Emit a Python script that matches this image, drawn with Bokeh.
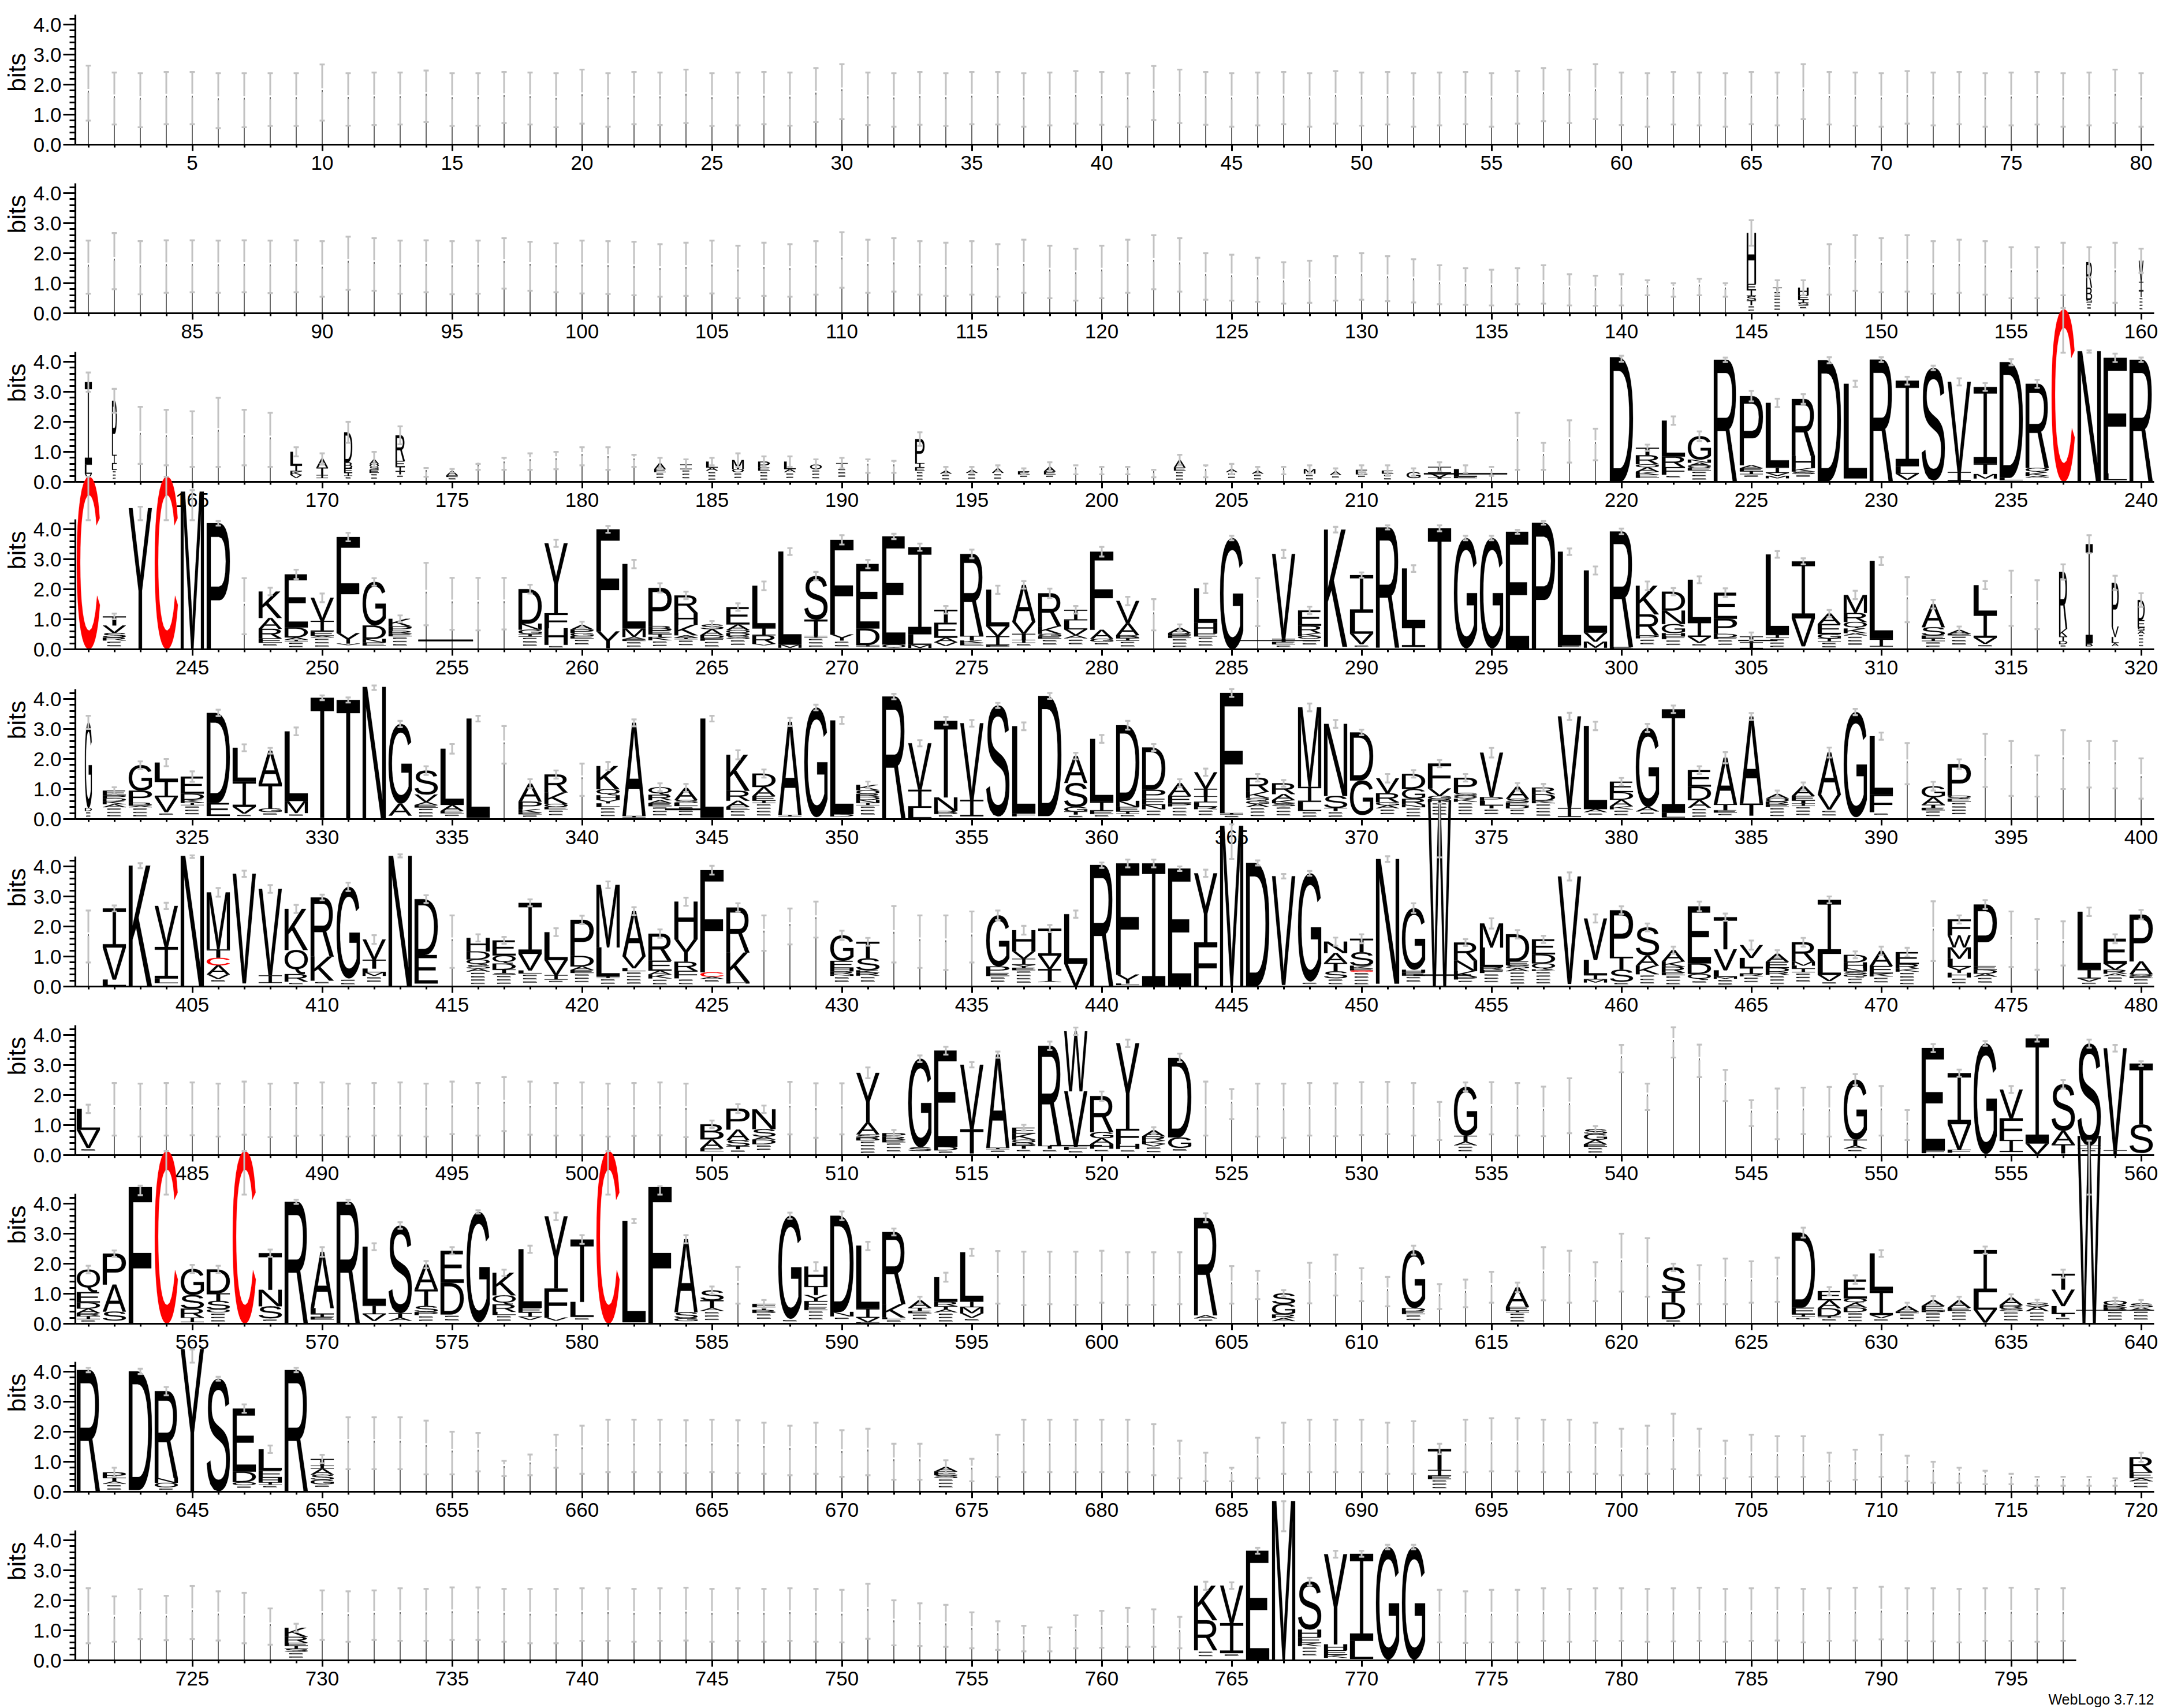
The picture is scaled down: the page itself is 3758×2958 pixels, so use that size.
import glob, os, struct, subprocess
from bokeh.embed import file_html
from bokeh.resources import INLINE
from bokeh.layouts import column
from bokeh.plotting import figure
from bokeh.core.properties import value
from bokeh.models import FixedTicker, PrintfTickFormatter

# ---------- data: error-bar top / bottom per position, and stack letters (top to bottom) ----------
row01_hi = [2.63,2.40,2.38,2.42,2.42,2.38,2.38,2.38,2.38,2.67,2.38,2.40,2.40,2.47,2.38,2.38,2.42,2.40,2.38,2.50,
2.38,2.42,2.40,2.50,2.38,2.40,2.42,2.40,2.55,2.68,2.40,2.38,2.42,2.38,2.42,2.42,2.38,2.40,2.45,2.42,
2.38,2.62,2.50,2.42,2.38,2.40,2.42,2.38,2.45,2.40,2.42,2.38,2.40,2.42,2.38,2.45,2.55,2.50,2.68,2.40,
2.38,2.42,2.40,2.38,2.42,2.40,2.68,2.42,2.40,2.38,2.45,2.40,2.42,2.38,2.40,2.42,2.38,2.40,2.50,2.38]
row01_lo = [.80,.67,.58,.68,.68,.55,.58,.62,.62,.80,.63,.65,.67,.75,.62,.63,.72,.67,.58,.70,
.60,.68,.65,.72,.62,.64,.68,.63,.75,.85,.65,.60,.66,.62,.68,.67,.60,.64,.70,.66,
.60,.82,.72,.66,.60,.64,.68,.60,.70,.63,.67,.60,.64,.68,.60,.70,.78,.72,.85,.65,
.60,.67,.64,.60,.68,.64,.85,.67,.63,.60,.70,.64,.68,.60,.64,.67,.60,.64,.72,.60]
row02_hi = [2.42,2.67,2.40,2.43,2.43,2.42,2.43,2.42,2.43,2.40,2.55,2.50,2.42,2.43,2.40,2.42,2.50,2.38,2.33,2.42,
2.40,2.38,2.30,2.35,2.42,2.25,2.35,2.30,2.40,2.70,2.45,2.50,2.40,2.35,2.40,2.30,2.45,2.25,2.15,2.25,
2.45,2.60,2.50,2.00,1.95,1.85,1.70,1.75,1.90,2.00,1.90,1.80,1.60,1.50,1.45,1.50,1.60,1.30,1.25,1.30,
1.10,1.00,1.15,1.00,3.10,1.10,1.10,2.30,2.60,2.50,2.60,2.40,2.45,2.40,2.20,2.20,2.35,2.20,2.35,2.15]
row02_lo = [.65,.80,.63,.68,.70,.68,.70,.67,.70,.55,.78,.75,.65,.70,.63,.65,.82,.75,.70,.66,
.64,.60,.55,.58,.66,.50,.58,.55,.62,.85,.68,.72,.62,.58,.62,.55,.68,.50,.42,.50,
.68,.80,.72,.45,.42,.38,.32,.35,.42,.45,.40,.36,.30,.28,.26,.30,.32,.26,.25,.26,
.60,.55,.60,.55,2.25,.60,.60,.62,.75,.70,.72,.65,.68,.62,.50,.50,.60,1.20,.35,1.35]
row02_letters = {145:("H1.7 E.2 I.2 S.15 T.15",.4),146:("T.1",.4),147:("H.25 E.15 I.1 S.1",.45),
158:("R.85 B.4 S.1",.25),160:("V.7 I.3 T.2",.2)}
row03 = [(161,3.64,3.0,"I2.75 L.3 V.2",.3),(162,3.1,2.3,"P1.8 I.3 L.2",.2),(163,2.5,.6),(164,2.4,.55),(165,2.35,.5),(166,2.8,.5),(167,2.4,.55),(168,2.3,.5),
(169,1.15,.85,"L.45 I.2 K.12 V.1",.5),(170,.95,.6,"A.3 T.25 I.1",.5),(171,2.0,1.3,"D1.0 B.2 E.15 I.1",.35),(172,1.0,.5,"A.15 O.1 S.1 E.1",.4),(173,1.85,1.25,"R.85 E.2 I.15 T.1",.4),
(174,.46,.17),(175,.43,.3,"A.15 E.05",.5),(176,.6,.4),(177,.8,.4),(178,.95,.4),(179,1.0,.42),(180,1.15,.55),(181,1.15,.4),(182,.9,.5),(183,.8,.45,"A.2 E.1",.5),(184,.75,.4,"I.15",.5),
(185,.8,.55,"L.2 A.1",.5),(186,.95,.5,"M.3 O.1",.5),(187,.85,.5,"P.2 E.1",.5),(188,.85,.5,"L.25 A.1",.5),(189,.75,.4,"O.15",.5),(190,.8,.45,"T.15",.5),(191,.75,.3),(192,.7,.3),
(193,1.65,1.2,"P.8 I.15 E.1",.4),(194,.5,.25,"A.1",.5),(195,.5,.3,"A.1",.5),(196,.55,.35,"A.15",.5),(197,.45,.25,"E.1",.5),(198,.65,.35,"A.15 E.1",.5),(199,.55,.25),
(200,.5,.25),(201,.5,.25),(202,.4,.15),(203,.9,.55,"A.25 E.1",.5),(204,.55,.15),(205,.6,.25,"A.1",.5),(206,.5,.25,"A.1",.5),(207,.5,.25),(208,.55,.3,"M.15",.5),(209,.45,.25,"A.12",.5),
(210,.55,.25,"E.15",.5),(211,.55,.2,"E.1",.5),(212,.45,.2,"G.2",.6),(213,.65,.35,"I.2 V.15 T.05"),(214,.55,.3,"L.25 E.05"),(215,.5,.2),(216,2.3,.4),(217,1.3,.4),(218,2.05,.64),(219,1.77,.72),
(220,4.2,4.0,"D4.15"),(221,1.24,1.03,"T.25 R.3 O.1 A.15 K.1 E.1"),(222,2.18,1.9,"L1.2 R.35 F.25"),(223,1.68,1.36,"G.78 N.1 A.1 O.08 E.08"),(224,4.14,3.99,"R4.05"),
(225,3.03,2.68,"P2.3 A.1 E.1 I.1"),(226,2.77,2.49,"L2.15 I.18 V.1 M.08"),(227,2.92,2.6,"R1.9 H.4 K.12 S.08"),(228,4.15,3.95,"D4.03"),(229,3.37,3.16,"L3.15"),(230,4.15,3.99,"R4.05"),
(231,3.5,3.24,"I2.85 L.25 V.2"),(232,3.87,3.72,"S3.75"),(233,3.45,3.21,"V3.0 I.3"),(234,3.29,3.03,"I2.55 T.35 M.15"),(235,4.09,3.88,"D3.85 L.08"),(236,3.4,3.13,"R2.8 Q.15 K.12 A.05"),
(237,5.79,4.3,"C5.75"),(238,4.38,4.3,"N4.35"),(239,4.27,3.99,"F3.85 L.22"),(240,4.14,3.99,"R4.05")]
row04 = [(241,5.75,4.3,"C5.75"),(242,1.19,1.0,"T.3 V.25 S.15 R.1"),(243,4.75,4.3,"Y4.7"),(244,5.75,4.3,"C5.75"),(245,5.3,4.3,"M5.25"),(246,4.27,4.12,"P4.2"),(247,2.37,.5),
(248,2.05,1.8,"K.88 A.36 R.32 E.15"),(249,2.65,2.34,"E1.77 D.33 A.08 I.05"),(250,1.86,1.57,"V.77 I.35 E.15 A.05"),(251,3.88,3.6,"F3.2 Y.35 V.05"),(252,2.37,2.12,"G1.45 D.45 N.12 E.1"),
(253,1.13,.9,"K.25 P.15 R.1 E.08"),(254,2.88,.8),(255,2.38,.65),(256,2.38,.63),(257,2.38,.66),(258,2.15,1.86,"D1.15 N.2 G.15 I.08"),(259,3.65,3.41,"Y2.33 F.5 H.55"),(260,.92,.7,"A.15 P.12 G.1 E.08"),
(261,4.11,3.88,"F3.4 Y.55"),(262,2.98,2.7,"L2.15 M.28 A.08 E.05"),(263,2.2,1.89,"P1.27 B.15 E.12 I.1 K.1"),(264,1.92,1.67,"R.58 H.4 K.35 A.08 I.05"),(265,.94,.72,"S.16 A.2 D.1 F.08"),
(266,1.53,1.28,"E.58 A.18 O.1 D.1 S.1"),(267,2.26,1.97,"L1.4 I.25 R.28 V.05"),(268,3.37,3.14,"L3.1 M.1"),(269,2.58,2.3,"S1.45 T.55 I.05"),(270,3.8,3.49,"F3.15 Y.2"),(271,2.98,2.7,"E2.15 D.55 I.05"),
(272,3.85,3.67,"E3.6 O.1"),(273,3.52,3.28,"I2.9 L.35 M.1"),(274,1.44,1.19,"T.43 E.5 A.15 V.12"),(275,3.32,3.03,"R2.73 T.15 K.08 E.08"),(276,2.12,1.85,"L1.22 V.33 I.3 E.05"),(277,2.27,2.02,"A1.23 V.4 T.2 I.1"),
(278,2.02,1.71,"R1.1 K.25 G.08 E.08"),(279,1.44,1.19,"I.35 L.3 V.2 A.1"),(280,3.41,3.09,"F2.6 A.3 G.1"),(281,1.75,1.47,"V.74 A.4 B.1 I.08"),(282,1.67,.63),(283,.83,.59,"A.17 B.08 E.08"),(284,2.19,1.87,"L1.15 H.35 E.1"),
(285,3.78,3.63,"G3.7"),(286,2.37,.77),(287,3.31,3.04,"V2.83 T.1 E.08"),(288,1.42,1.17,"E.51 R.25 K.1 O.08"),(289,4.08,3.89,"K3.9"),(290,2.56,2.38,"I1.25 L.7 V.35"),(291,4.13,3.99,"R4.0"),(292,2.8,2.58,"L1.93 I.68"),
(293,4.13,3.93,"T4.0"),(294,3.78,3.63,"G3.67"),(295,3.78,3.63,"G3.67"),(296,3.98,3.85,"E3.9"),(297,4.27,4.15,"P4.2"),(298,3.36,3.14,"L3.12 E.05"),(299,2.76,2.49,"L2.07 V.3 M.2"),(300,4.02,3.83,"R3.85 E.05"),
(301,2.26,1.97,"K.95 R.7 P.1"),(302,2.04,1.8,"D.63 N.45 G.3 H.1 F.1"),(303,2.43,2.2,"L1.4 I.5 V.2"),(304,2.03,1.74,"E.87 P.5 D.12 F.05"),(305,.56,.3,"T.2 I.2"),(306,3.27,3.05,"L2.68 I.1"),
(307,3.03,2.83,"I1.9 V.93"),(308,1.31,1.07,"A.35 E.33 G.15 I.1"),(309,1.95,1.67,"M.6 R.3 Q.22 K.15 A.08"),(310,3.07,2.81,"L2.6 I.25"),(311,2.4,.9),(312,1.65,1.36,"A.77 S.28 E.1 I.08"),(313,.76,.53,"A.13 E.05"),
(314,2.27,2.0,"L.95 I.8 V.2"),(315,2.62,.78),(316,2.3,.67),(317,2.83,2.32,"R1.9 K.25 T.15 D.1",.35),(318,3.8,3.2,"I3.3 B.1",.3),(319,2.45,1.97,"P1.45 V.35 L.2 A.1",.3),(320,1.87,1.41,"D.67 E.25 S.1 A.1",.3)]
row05 = [(321,3.44,3.0,"G2.85 D.1",.3),(322,1.06,.83,"E.15 P.1 D.1 K.1 A.1"),(323,1.92,1.67,"G.85 P.4 B.1 A.05"),(324,2.0,1.76,"L.6 I.55 V.5"),(325,1.59,1.24,"E.57 D.2 K.1 I.08"),(326,3.64,3.43,"D3.0 E.43"),
(327,2.49,2.26,"L1.12 I.85 V.22"),(328,2.37,2.18,"A1.09 T.83 G.12"),(329,3.05,2.79,"L2.32 M.4"),(330,4.12,3.96,"T4.0"),(331,4.05,3.88,"T3.95"),(332,4.45,4.3,"N4.4"),(333,3.27,3.06,"G2.65 A.4"),(334,1.76,1.47,"S.8 V.25 A.1 E.08"),
(335,2.5,2.18,"L1.87 A.2 E.08"),(336,3.44,3.25,"L3.3"),(337,3.1,1.85),(338,1.33,1.03,"A.6 P.25 K.12 E.05"),(339,1.62,1.35,"R.6 K.38 O.1 E.08"),(340,1.85,.77),(341,1.9,1.63,"K.77 Q.2 H.15 Y.12 L.12"),(342,3.32,3.09,"A3.1 I.05"),
(343,1.19,.93,"Q.25 R.18 A.1 E.1"),(344,1.17,.9,"A.4 S.1 L.1"),(345,3.44,3.25,"L3.3"),(346,2.29,1.99,"K1.2 R.33 A.2 E.1"),(347,1.65,1.38,"D.45 A.3 E.15 I.08"),(348,3.37,3.1,"A3.1 I.05"),(349,3.81,3.62,"G3.65"),
(350,3.4,3.17,"L3.12 D.08"),(351,1.25,1.03,"K.18 O.12 R.1 D.1 N.1 I.08"),(352,4.17,3.99,"R4.05"),(353,2.63,2.42,"V1.55 I.6 L.35"),(354,3.4,3.14,"T2.55 N.45 B.1"),(355,3.3,3.08,"V2.55 I.55"),(356,3.87,3.7,"S3.7"),
(357,3.22,2.96,"L2.9 F.1"),(358,4.2,4.0,"D4.0"),(359,2.21,1.99,"A.9 S.8 G.15 T.1"),(360,2.8,2.54,"L2.1 I.3 E.1"),(361,3.27,2.98,"D2.52 N.2 E.15 I.08"),(362,2.5,2.27,"D1.41 P.3 E.2 N.15"),(363,1.33,1.06,"A.42 E.25 P.1"),
(364,1.68,1.44,"V.55 T.25 I.2 L.15 R.08"),(365,4.33,4.07,"F4.0 I.05"),(366,1.5,1.25,"R.47 K.2 Q.1 G.1 A.1"),(367,1.3,1.08,"R.36 A.2 K.1 S.1"),(368,3.85,3.59,"M2.65 I.5 L.3"),(369,3.3,3.04,"N2.4 S.4 T.1"),(370,2.98,2.79,"D1.6 G1.15"),
(371,1.5,1.22,"V.5 R.3 G.1 A.1"),(372,1.63,1.38,"D.5 G.33 R.2 N.08"),(373,1.97,1.73,"F.83 V.25 G.1 R.1"),(374,1.5,1.25,"P.5 S.1 Q.1 K.1"),(375,2.37,2.05,"V1.48 P.12 L.15 T.1"),(376,1.2,.95,"A.4 S.12 E.1 D.1"),
(377,1.17,.93,"R.22 D.22 K.08"),(378,3.54,3.3,"V3.05 I.3"),(379,3.24,2.96,"L2.77 A.1"),(380,1.37,1.12,"E.35 D.25 A.22 K.1"),(381,3.17,2.9,"G2.63 A.15"),(382,3.78,3.53,"I3.45 L.15"),(383,1.76,1.5,"E.55 D.45 A.25"),
(384,2.23,1.86,"A1.55 T.2 E.08"),(385,3.53,3.3,"A2.9 T.4"),(386,.95,.72,"A.15 O.1 R.1 E.08"),(387,1.22,.96,"A.32 E.15 T.1 I.08"),(388,2.38,2.05,"A1.4 V.5"),(389,3.67,3.46,"G3.5"),(390,2.88,2.64,"L1.93 F.6"),(391,2.53,1.16),
(392,1.24,.95,"G.37 A.25 T.1 E.08"),(393,1.99,1.67,"P1.05 Q.1 E.1"),(394,2.84,1.07),(395,2.6,.77),(396,2.12,.75),(397,2.96,1.0),(398,2.6,1.05),(399,2.6,1.02),(400,2.02,.68)]
row06 = [(401,2.53,.8),(402,2.7,2.5,"I1.3 V1.07 L.2"),(403,4.11,3.94,"K4.0"),(404,2.79,2.58,"V1.37 I1.05 L.15"),(405,4.37,4.28,"N4.35"),(406,3.28,2.99,"M1.9 T.28 C.25 A.3 V.15"),(407,3.86,3.65,"V3.65"),(408,3.38,3.12,"V2.88 I.25"),
(409,2.72,2.45,"K1.37 Q.8 R.25"),(410,3.06,2.87,"R1.97 K.8"),(411,3.46,3.18,"G3.05"),(412,1.71,1.42,"V.67 T.3 L.12 M.12"),(413,4.4,4.3,"N4.35"),(414,3.04,2.78,"D1.86 E.95"),(415,2.37,.62),(416,1.74,1.5,"H.45 D.27 Q.18 S.12 A.1"),
(417,1.65,1.42,"E.5 Q.27 D.2 T.12 S.05"),(418,2.9,2.67,"I1.7 V.55 L.1"),(419,1.94,1.68,"L.93 V.5 I.15"),(420,2.36,2.08,"P1.2 D.35 A.12 E.1"),(421,3.5,3.27,"M2.08 L.97 I.05"),(422,2.64,2.38,"A1.5 V.4 L.1"),(423,1.9,1.62,"R.9 E.33 A.13 K.13"),
(424,2.96,2.69,"H1.25 Y.75 R.3 F.25"),(425,4.02,3.73,"F3.4 C.15 A.07"),(426,2.77,2.49,"R1.5 K.98 H.05"),(427,2.37,1.19),(428,2.6,1.4),(429,2.83,1.63),(430,1.86,1.55,"G.85 E.25 H.1 R.1 N.05"),(431,1.62,1.36,"T.55 S.4 K.08 R.1"),
(432,2.68,.8),(433,2.37,.62),(434,2.37,.55),(435,2.5,.8),(436,2.53,2.21,"G1.7 P.22 E.1"),(437,2.02,1.73,"H.7 V.25 I.2 Y.1 E.08"),(438,2.05,1.81,"I.9 V.45 T.4 A.03"),(439,2.53,2.29,"L1.65 V.75"),
(440,4.13,3.95,"R4.05"),(441,4.23,3.97,"F3.7 Y.3 L.05"),(442,4.23,3.97,"I4.1"),(443,4.0,3.85,"E3.93"),(444,3.89,3.65,"Y2.3 F1.45"),(445,5.4,4.25,"M5.35"),(446,4.2,4.03,"D4.1"),(447,3.75,3.6,"V3.62"),(448,3.85,3.69,"G3.6"),
(449,1.63,1.36,"N.38 A.33 T.28 S.23"),(450,1.74,1.44,"T.45 S.45 K.1 E.05 C.05"),(451,4.34,4.15,"N4.15"),(452,2.77,2.45,"G2.05 H.1 E.1"),(453,6.1,4.3,"W6.2"),(454,1.58,1.35,"R.6 N.35 K.2 P.08"),(455,2.27,1.93,"M.8 L.65 R.1 F.1"),
(456,1.88,1.6,"D.9 E.13 S.1 A.1"),(457,1.69,1.45,"E.5 D.3 Q.2 K.05"),(458,3.8,3.53,"V3.58"),(459,2.4,2.13,"V1.38 L.5 I.15 M.1"),(460,2.67,2.41,"P1.55 T.43 S.4"),(461,2.1,1.84,"S.93 A.35 K.28"),(462,1.33,1.09,"A.38 K.17 R.2 E.08"),
(463,2.83,2.51,"E1.9 D.35 Q.2"),(464,2.43,2.19,"T1.07 V.7 L.22 M.06"),(465,1.53,1.23,"V.43 L.33 I.2 R.08"),(466,1.21,.97,"A.27 E.2 D.13 R.1"),(467,1.62,1.33,"R.65 M.13 L.1 I.12"),(468,3.0,2.77,"I1.8 L.7 V.2"),
(469,1.17,.94,"D.25 H.2 N.1 S.1 Q.1"),(470,1.33,1.04,"A.5 E.25 K.1"),(471,1.29,1.0,"E.4 R.15 K.1"),(472,2.84,.85),(473,2.37,2.1,"F.53 W.4 M.38 L.27 Y.2 H.15"),(474,2.88,2.58,"P2.05 E.12 D.13 A.1"),(475,2.5,.65),(476,2.25,.56),(477,2.17,.7),
(478,2.63,2.35,"L1.92 I.3 V.1"),(479,1.74,1.44,"E.83 V.2 R.13 A.08"),(480,2.55,2.24,"P1.56 A.42 Q.08 E.05")]
row07 = [(481,1.68,1.4,"L.7 V.6"),(482,2.4,.65),(483,2.38,.62),(484,2.4,.65),(485,2.42,.66),(486,2.38,.62),(487,2.45,.68),(488,2.38,.6),(489,2.4,.64),(490,2.42,.66),(491,2.38,.62),(492,2.4,.65),(493,2.42,.65),(494,2.38,.62),(495,2.45,.7),
(496,2.4,.65),(497,2.6,.8),(498,2.45,.68),(499,2.4,.65),(500,2.42,.66),(501,2.38,.62),(502,2.4,.64),(503,2.42,.66),(504,2.38,.6),(505,1.15,.9,"B.5 A.3 E.1"),(506,1.7,1.4,"P.7 A.35 S.2 T.1"),(507,1.65,1.4,"N.66 S.25 A.1 D.15"),
(508,2.44,.69),(509,2.39,.58),(510,2.39,.69),(511,2.92,2.56,"Y1.65 A.4 S.1 B.1"),(512,.84,.62,"P.12 R.1 E.08"),(513,3.32,3.1,"G2.95 S.12"),(514,3.61,3.35,"E3.2 D.12"),(515,3.1,2.92,"V2.15 T.8"),(516,3.45,3.24,"A3.1 I.05"),
(517,1.01,.82,"E.2 K.2 O.1 B.1 T.1"),(518,3.78,3.5,"R3.33 T.1"),(519,4.25,4.0,"W2.0 V1.85 F.1"),(520,2.12,1.81,"R1.2 G.2 A.2 H.15"),(521,3.85,3.6,"Y2.85 F.5 H.17"),(522,.93,.72,"A.2 R.15 K.1 V.08"),(523,3.38,3.1,"D2.65 G.35"),
(524,2.45,.65),(525,2.2,1.2),(526,2.38,.62),(527,2.38,.58),(528,2.4,.65),(529,2.39,.63),(530,2.43,.67),(531,2.44,.7),(532,2.4,.65),(533,1.77,.5),(534,2.42,2.13,"G1.63 T.2 A.12"),(535,2.43,.69),(536,2.4,.65),(537,2.28,.63),(538,2.56,.73),
(539,.97,.75,"S.15 G.2 A.15 E.08"),(540,3.67,2.76),(541,2.38,1.5),(542,4.26,3.25),(543,3.68,2.6),(544,2.84,1.8),(545,1.83,.97),(546,2.22,.53),(547,2.25,.7),(548,2.27,.62),(549,2.7,2.33,"G2.0 T.2 A.1"),(550,2.3,.65),(551,1.5,.5),
(552,3.7,3.43,"E3.4 F.1"),(553,2.85,2.61,"I1.7 V.85 F.1"),(554,3.8,3.64,"G3.68"),(555,2.3,2.07,"V.96 F.72 I.4"),(556,3.99,3.78,"I3.5 V.35"),(557,2.5,2.22,"S1.55 A.45 T.3"),(558,3.85,3.58,"S3.4 I.1"),(559,3.67,3.45,"V3.4 I.15"),(560,3.13,2.97,"T2.03 S.95")]
row08 = [(561,1.93,1.68,"Q.75 E.35 D.2 A.15 R.1 I.1"),(562,2.44,2.23,"P1.03 A.9 S.3"),(563,4.6,4.28,"F4.55"),(564,5.75,4.3,"C5.75"),(565,1.96,1.69,"G.87 S.45 R.3 I.15"),(566,1.93,1.69,"D.8 T.25 S.28 O.1"),(567,5.75,4.3,"C5.75"),
(568,2.47,2.23,"T1.22 N.55 S.4"),(569,4.13,3.99,"R4.03"),(570,2.55,2.23,"A1.87 L.2 I.1 E.08"),(571,4.13,3.99,"R4.03"),(572,2.68,2.45,"L1.95 I.3 V.22"),(573,3.38,3.16,"S2.92 T.15 A.1"),(574,2.09,1.85,"A.83 T.55 S.2 P.1"),(575,2.55,2.31,"E1.07 D1.05"),
(576,3.78,3.67,"G3.68"),(577,1.8,1.59,"K.75 Q.3 R.25 L.1"),(578,2.6,2.36,"L1.95 E.15 I.15 V.1"),(579,3.7,3.45,"Y2.4 F.97 V.1"),(580,2.95,2.66,"T2.08 L.5"),(581,5.75,4.3,"C5.75"),(582,3.49,3.35,"L3.37"),(583,4.58,4.3,"F4.55"),
(584,2.95,2.68,"A2.43 S.2 G.1"),(585,1.24,.98,"S.33 T.25 A.1"),(586,1.89,.67),(587,.79,.53,"F.1 T.1 B.1"),(588,3.7,3.49,"G3.43"),(589,2.05,1.76,"H.65 T.3 Y.2 F.2 E.1"),(590,3.74,3.45,"D3.2 N.15"),(591,2.73,2.45,"L2.1 I.3 V.15 F.05"),
(592,3.17,2.94,"R2.4 K.45 L.05"),(593,.9,.66,"A.25 T.1 E.08"),(594,1.7,1.4,"L.82 R.15 T.1 A.1"),(595,2.5,2.26,"L1.63 I.2 M.2 V.15"),(596,2.42,.67),(597,2.4,.62),(598,2.4,.65),(599,2.4,.63),
(600,2.43,.7),(601,2.38,.63),(602,2.38,.63),(603,2.38,.65),(604,3.68,3.38,"R3.25 A.1"),(605,1.92,.67),(606,1.76,.82),(607,1.12,.9,"S.35 G.35 R.12 A.1"),(608,2.03,.68),(609,2.3,.94),(610,1.85,.75),(611,1.56,.58),(612,2.6,2.3,"G1.93 D.1 E.1"),
(613,1.32,.49),(614,1.47,.55),(615,1.73,.7),(616,1.37,1.05,"A.65 E.13 I.05"),(617,2.55,.78),(618,2.43,.7),(619,2.05,.75),(620,3.0,1.07),(621,2.85,.9),(622,2.0,1.75,"S.8 T.37 D.55"),(623,1.95,.65),(624,2.17,.65),(625,2.08,.7),(626,2.2,.73),
(627,3.2,2.87,"D2.5 E.22 I.08"),(628,1.22,.95,"E.3 A.27 D.27 I.05"),(629,1.61,1.33,"E.63 Q.15 A.15 D.15"),(630,2.45,2.23,"L1.25 I.8 V.1"),(631,.7,.47,"A.18 E.05"),(632,.92,.66,"A.2 E.15 B.05"),(633,.9,.66,"A.25 E.1"),(634,2.57,2.33,"I1.4 L.58 V.43"),
(635,.98,.76,"A.25 R.1 S.1"),(636,.8,.6,"S.13 A.15"),(637,1.8,1.53,"T.53 V.55 L.25 T.1"),(638,6.1,4.3,"W6.25"),(639,.87,.66,"O.13 R.1 B.1"),(640,.79,.56,"S.13 A.1")]
row09 = [(641,4.13,3.98,"R4.03"),(642,.8,.49,"P.18 T.12 A.08"),(643,4.1,3.92,"D3.95"),(644,3.49,3.21,"R2.9 N.15 O.15"),(645,4.74,4.3,"Y4.75"),(646,3.83,3.7,"S3.75"),(647,2.91,2.63,"E2.1 D.35 O.1"),(648,1.54,1.29,"L.7 E.25 H.15 I.08"),
(649,4.13,3.98,"R4.03"),(650,1.23,.95,"T.22 I.1 A.2 S.17 G.15"),(651,2.48,.75),(652,2.48,.75),(653,2.48,.75),(654,2.37,.58),(655,2.0,.58),(656,1.96,.68),(657,1.03,.52),(658,1.24,.55),(659,1.9,.8),(660,2.2,.6),(661,2.4,.65),(662,2.4,.65),(663,2.4,.65),
(664,2.38,.62),(665,2.4,.65),(666,2.38,.62),(667,2.3,.6),(668,2.2,.55),(669,2.3,.6),(670,2.05,.5),(671,2.1,.55),(672,1.6,.4),(673,1.6,.4),(674,1.05,.6,"A.15 E.12 S.1"),(675,1.1,.35),(676,1.9,.5),(677,2.4,.65),(678,2.4,.65),(679,2.4,.65),(680,2.4,.65),
(681,2.4,.65),(682,2.25,.55),(683,1.7,.45),(684,1.3,.35),(685,.8,.35),(686,1.8,.45),(687,2.3,.6),(688,2.4,.65),(689,2.4,.65),(690,2.4,.65),(691,2.3,.6),(692,2.35,.6),(693,1.6,1.25,"T.7 I.2 E.1"),(694,2.4,.65),(695,2.45,.68),(696,2.45,.68),(697,2.4,.65),
(698,2.4,.65),(699,2.3,.6),(700,2.1,.55),(701,2.2,.6),(702,2.6,.75),(703,2.1,.55),(704,1.7,.45),(705,1.9,.5),(706,1.85,.5),(707,1.85,.5),(708,1.3,.35),(709,1.4,.4),(710,1.9,.5),(711,1.2,.35),(712,1.0,.3),(713,.8,.3),(714,.7,.25),(715,.6,.25),(716,.5,.2),
(717,.5,.2),(718,.5,.2),(719,.45,.2),(720,1.3,1.0,"R.5 E.2 A.1")]
row10 = [(721,2.4,.57),(722,2.13,.62),(723,2.37,.71),(724,2.15,.67),(725,2.48,.71),(726,2.3,.66),(727,2.25,.57),(728,1.73,.52),(729,1.22,.95,"K.3 R.2 E.1 I.1 S.1"),(730,2.33,.68),(731,2.3,.62),(732,2.33,.68),(733,2.4,.65),(734,2.38,.65),(735,2.43,.68),
(736,2.43,.68),(737,2.38,.62),(738,2.38,.57),(739,2.38,.57),(740,2.4,.65),(741,2.4,.65),(742,2.38,.62),(743,2.4,.65),(744,2.42,.66),(745,2.38,.62),(746,2.4,.65),(747,2.38,.62),(748,2.4,.65),(749,2.38,.62),(750,2.35,.6),(751,2.55,.72),(752,2.0,.5),
(753,1.9,.48),(754,1.85,.45),(755,1.6,.4),(756,1.3,.35),(757,1.15,.3),(758,1.1,.3),(759,1.5,.4),(760,1.65,.42),(761,1.75,.45),(762,1.7,.45),(763,1.45,.4),(764,2.62,2.35,"K1.15 R1.0"),(765,2.6,2.38,"V1.25 I1.0"),(766,3.75,3.55,"E3.65"),
(767,5.3,4.3,"M5.3"),(768,2.75,2.5,"S1.6 H.25 E.2 K.1"),(769,3.65,3.42,"Y3.0 H.2 E.15 K.1"),(770,3.65,3.45,"I2.9 L.6"),(771,3.85,3.7,"G3.75"),(772,3.85,3.7,"G3.75"),(773,2.35,.6),(774,2.3,.58),(775,2.35,.6),(776,2.35,.6),(777,2.4,.65),(778,2.38,.62),
(779,2.4,.65),(780,2.4,.65),(781,2.38,.62),(782,2.4,.63),(783,2.42,.65),(784,2.38,.62),(785,2.4,.65),(786,2.42,.66),(787,2.38,.6),(788,2.4,.65),(789,2.42,.66),(790,2.45,.7),(791,2.4,.65),(792,2.4,.63),(793,2.38,.6),(794,2.4,.65),(795,2.42,.65),(796,2.38,.62),(797,2.4,.65)]
long_dashes = {3:[(212.4,215.6,.25,.04)],4:[(253.7,255.8,.27,.05),(285,288.4,.28,.02),(304.5,306,.28,.03)],5:[(343.2,345,.3,.05)],6:[(452,454.2,.36,.04)],7:[(518,520,.3,.03)],8:[(637.5,640.5,.44,.015),(553,555,.44,.03)]}
row_zero_y = [249,541,833,1123,1417,1707,1999,2291,2582,2874]
credit = "WebLogo 3.7.12"
y_ticks = [0,1,2,3,4]
y_minor = [0.2*i for i in range(22)]
tick_step = 5
RED, BLACK, GRAY = "#ff0000", "#000000", "#c2c2c2"
LEFT = 130

# ---------- letter outlines from the installed font (stretched, as in sequence logos) ----------
def find_font():
    for root in ("/usr/share/fonts", "/usr/local/share/fonts", os.path.expanduser("~/.fonts"), os.path.expanduser("~/.local/share/fonts")):
        hits = glob.glob(root+"/**/LiberationSans-Regular.ttf", recursive=True)
        if hits:
            return hits[0]
    return subprocess.run(["fc-match", "-f", "%{file}", "Liberation Sans"], capture_output=True, text=True, timeout=20).stdout

def load_glyphs(chars):
    data = open(find_font(), "rb").read()
    n = struct.unpack(">H", data[4:6])[0]
    tb = {}
    for i in range(n):
        tag, _, off, ln = struct.unpack(">4sIII", data[12+16*i:28+16*i])
        tb[tag.decode()] = off
    fmt = struct.unpack(">h", data[tb["head"]+50:tb["head"]+52])[0]
    cm = tb["cmap"]
    cnt = struct.unpack(">H", data[cm+2:cm+4])[0]
    sub = None
    for i in range(cnt):
        pid, eid, o = struct.unpack(">HHI", data[cm+4+8*i:cm+12+8*i])
        if struct.unpack(">H", data[cm+o:cm+o+2])[0] == 4:
            sub = cm+o
    seg = struct.unpack(">H", data[sub+6:sub+8])[0]//2
    ends = struct.unpack(f">{seg}H", data[sub+14:sub+14+2*seg])
    starts = struct.unpack(f">{seg}H", data[sub+16+2*seg:sub+16+4*seg])
    deltas = struct.unpack(f">{seg}h", data[sub+16+4*seg:sub+16+6*seg])
    ro_pos = sub+16+6*seg
    ros = struct.unpack(f">{seg}H", data[ro_pos:ro_pos+2*seg])
    def gid(c):
        for i in range(seg):
            if starts[i] <= c <= ends[i]:
                if ros[i] == 0:
                    return (c+deltas[i]) & 0xFFFF
                p = ro_pos+2*i+ros[i]+2*(c-starts[i])
                return (struct.unpack(">H", data[p:p+2])[0]+deltas[i]) & 0xFFFF
        return 0
    def loca(g):
        if fmt:
            return struct.unpack(">I", data[tb["loca"]+4*g:tb["loca"]+4*g+4])[0]
        return 2*struct.unpack(">H", data[tb["loca"]+2*g:tb["loca"]+2*g+2])[0]
    out = {}
    for ch in chars:
        p = tb["glyf"]+loca(gid(ord(ch)))
        nc = struct.unpack(">h", data[p:p+2])[0]
        q = p+10
        endp = struct.unpack(f">{nc}H", data[q:q+2*nc]); q += 2*nc
        il = struct.unpack(">H", data[q:q+2])[0]; q += 2+il
        np_ = endp[-1]+1
        flags = []
        while len(flags) < np_:
            f = data[q]; q += 1
            flags.append(f)
            if f & 8:
                r = data[q]; q += 1
                flags += [f]*r
        xs, v = [], 0
        for f in flags:
            if f & 2:
                d = data[q]; q += 1
                v += d if f & 16 else -d
            elif not f & 16:
                v += struct.unpack(">h", data[q:q+2])[0]; q += 2
            xs.append(v)
        ys, v = [], 0
        for f in flags:
            if f & 4:
                d = data[q]; q += 1
                v += d if f & 32 else -d
            elif not f & 32:
                v += struct.unpack(">h", data[q:q+2])[0]; q += 2
            ys.append(v)
        rings, s = [], 0
        for e in endp:
            pts = [(xs[i], ys[i], flags[i] & 1) for i in range(s, e+1)]
            s = e+1
            ex = []
            for i, pt in enumerate(pts):
                nx = pts[(i+1) % len(pts)]
                ex.append(pt)
                if not pt[2] and not nx[2]:
                    ex.append(((pt[0]+nx[0])/2, (pt[1]+nx[1])/2, 1))
            while not ex[0][2]:
                ex = ex[1:]+ex[:1]
            ring = []
            m = len(ex)
            for i in range(m):
                a = ex[i]
                if a[2]:
                    ring.append((a[0], a[1]))
                else:
                    b, c = ex[i-1], ex[(i+1) % m]
                    for t in (.25, .5, .75):
                        ring.append(((1-t)**2*b[0]+2*t*(1-t)*a[0]+t*t*c[0], (1-t)**2*b[1]+2*t*(1-t)*a[1]+t*t*c[1]))
            rings.append(ring)
        allp = [pt for r in rings for pt in r]
        x0, x1 = min(a for a, _ in allp), max(a for a, _ in allp)
        y0, y1 = min(a for _, a in allp), max(a for _, a in allp)
        def area(r):
            return abs(sum(r[i][0]*r[(i+1) % len(r)][1]-r[(i+1) % len(r)][0]*r[i][1] for i in range(len(r))))
        rings.sort(key=area, reverse=True)
        out[ch] = [[((a-x0)/(x1-x0), (b-y0)/(y1-y0)) for a, b in r] for r in rings]
    return out

GLYPHS = load_glyphs("ABCDEFGHKLMNOPQRSTVWXY")
GLYPHS["I"] = [[(0,0),(1,0),(1,.085),(.57,.085),(.57,.915),(1,.915),(1,1),(0,1),(0,.915),(.43,.915),(.43,.085),(0,.085)]]

LETTER_W = 40/45
PAD = 60

def make_row(first, last, entries, row_no, y_top):
    x_end = first-.5+80
    H = int(round(y_top*52))
    p = figure(width=LEFT+3600+15, height=H+PAD, x_range=(first-.5, x_end), y_range=(0, H/52),
               output_backend="svg", toolbar_location=None,
               min_border_left=LEFT, min_border_right=15, min_border_top=0, min_border_bottom=PAD,
               background_fill_color=None, border_fill_color=None, outline_line_color=None)
    p.grid.visible = False
    xs, ys, cols = [], [], []
    bx0, by0, by1 = [], [], []
    capx0, capx1, capy = [], [], []
    blx, bly0, bly1 = [], [], []
    for e in entries:
        pos, hi, lo = e[0], e[1], e[2]
        tokens = e[3].split() if len(e) > 3 else []
        wf = e[4] if len(e) > 4 else 1.0
        center = (hi+lo)/2
        heights = [(t[0], float(t[1:])) for t in tokens]
        top = max(center, sum(h for _, h in heights))
        y = top
        w = LETTER_W*wf
        for ch, h in heights:
            y -= h
            xs.append([[[pos-w/2+a*w for a, _ in r] for r in GLYPHS[ch]]])
            ys.append([[[y+b*h for _, b in r] for r in GLYPHS[ch]]])
            cols.append(RED if ch == "C" else BLACK)
        if heights:
            # the many very small residues at the foot of a stack: sparse thin dashes
            y -= .05
            while y > .1:
                blq = GLYPHS["E"]
                xs.append([[[pos-w*.3+a*w*.6 for a, _ in r] for r in blq]])
                ys.append([[[y-.03+b*.03 for _, b in r] for r in blq]])
                cols.append(BLACK)
                y -= .11
        if not heights:
            blx.append(pos); bly0.append(0); bly1.append(center+.08)
            bx0 += [pos, pos]; by0 += [lo, center+.14]; by1 += [center+.02, hi]
        else:
            bx0.append(pos); by0.append(lo); by1.append(hi)
        capx0 += [pos-.1, pos-.1]; capx1 += [pos+.1, pos+.1]; capy += [lo, hi]
    if xs:
        p.multi_polygons(xs=xs, ys=ys, fill_color=cols, line_color=cols, line_width=.3)
    if blx:
        p.segment(x0=blx, x1=blx, y0=bly0, y1=bly1, line_color=BLACK, line_width=1.2)
    for (a, b, yy, th) in long_dashes.get(row_no, []):
        p.quad(left=[a], right=[b], bottom=[yy], top=[yy+th], fill_color=BLACK, line_color=BLACK, line_width=.5)
    p.segment(x0=bx0, x1=bx0, y0=by0, y1=by1, line_color=GRAY, line_width=3)
    p.segment(x0=capx0, x1=capx1, y0=capy, y1=capy, line_color=GRAY, line_width=3.2)

    xa = p.xaxis[0]
    xa.ticker = FixedTicker(ticks=[k for k in range(first, last+1) if k % tick_step == 0], minor_ticks=list(range(first, last+1)))
    xa.bounds = (first-.5, last+.5)
    xa.axis_line_width = 3.2
    xa.axis_line_color = BLACK
    xa.major_tick_line_color = BLACK
    xa.minor_tick_line_color = BLACK
    xa.major_tick_line_width = 3
    xa.minor_tick_line_width = 3
    xa.major_tick_out = 11; xa.major_tick_in = 0
    xa.minor_tick_out = 5; xa.minor_tick_in = 0
    xa.major_label_text_font = "Liberation Sans"
    xa.major_label_text_font_size = "35px"
    xa.major_label_text_color = BLACK
    xa.major_label_standoff = 8
    ya = p.yaxis[0]
    ya.ticker = FixedTicker(ticks=y_ticks, minor_ticks=y_minor)
    ya.formatter = PrintfTickFormatter(format="%.1f")
    ya.bounds = (0, 4.33)
    ya.axis_line_width = 3.2
    ya.axis_line_color = BLACK
    ya.major_tick_line_color = BLACK
    ya.minor_tick_line_color = BLACK
    ya.major_tick_line_width = 3
    ya.minor_tick_line_width = 3
    ya.major_tick_out = 21; ya.major_tick_in = 0
    ya.minor_tick_out = 10; ya.minor_tick_in = 0
    ya.major_label_text_font = "Liberation Sans"
    ya.major_label_text_font_size = "35px"
    ya.major_label_text_color = BLACK
    ya.major_label_standoff = 3
    ya.axis_label = "bits"
    ya.axis_label_text_font = "Liberation Sans"
    ya.axis_label_text_font_style = "normal"
    ya.axis_label_text_font_size = "43px"
    ya.axis_label_text_color = BLACK
    ya.axis_label_standoff = 2
    return p

e01 = [(i+1, row01_hi[i], row01_lo[i]) for i in range(80)]
e02 = []
for i in range(80):
    pos = 81+i
    if pos in row02_letters:
        t, w = row02_letters[pos]
        e02.append((pos, row02_hi[i], row02_lo[i], t, w))
    else:
        e02.append((pos, row02_hi[i], row02_lo[i]))
rows = [(1,80,e01),(81,160,e02),(161,240,row03),(241,320,row04),(321,400,row05),(401,480,row06),(481,560,row07),(561,640,row08),(641,720,row09),(721,797,row10)]
Y_TOP = 6.6
figs = []
prev_bottom = -1
for n, (a, b, ent) in enumerate(rows, start=1):
    zero = row_zero_y[n-1]
    yt = (zero+1)/52 if n == 1 else Y_TOP
    p = make_row(a, b, ent, n, yt)
    H = int(round(yt*52))
    frame_top = zero-H
    p.margin = (int(frame_top-prev_bottom), 0, 0, 0)
    prev_bottom = zero+PAD
    figs.append(p)

# the small credit at the foot, as a frame of its own under the last row
foot_top = 2925
foot = figure(width=LEFT+3600+15, height=30, x_range=(0, 3600), y_range=(0, 30),
              output_backend="svg", toolbar_location=None, min_border_left=LEFT, min_border_right=15,
              min_border_top=0, min_border_bottom=0, background_fill_color=None, border_fill_color=None,
              outline_line_color=None)
foot.axis.visible = False
foot.grid.visible = False
foot.text(x=[3600], y=[14], text=[credit], text_align="right", text_baseline="middle",
          text_font=value("Liberation Sans"), text_font_size="25px", text_color=BLACK)
foot.margin = (int(foot_top-prev_bottom), 0, 0, 0)
figs.append(foot)
root = column(*figs, spacing=0)
open("out.html", "w").write(file_html(root, INLINE))
